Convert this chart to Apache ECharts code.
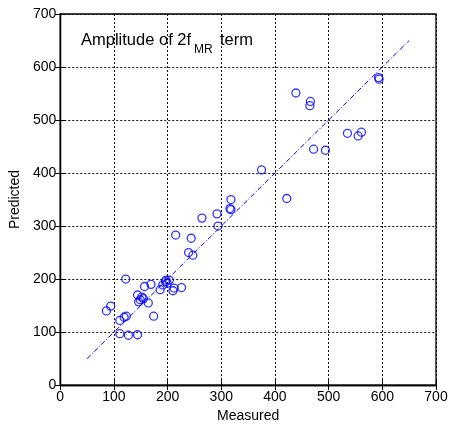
<!DOCTYPE html>
<html>
<head>
<meta charset="utf-8">
<script src="https://cdn.jsdelivr.net/npm/echarts@6/dist/echarts.min.js"></script>
<style>
  html, body { margin: 0; padding: 0; background: #fff; }
  #chart { width: 454px; height: 428px; }
</style>
</head>
<body>
<div id="chart"></div>
<script>
// Measured vs. predicted amplitude of the 2f_MR term
const measured = [
  86, 94, 111, 127, 144, 111, 119, 123, 122,
  144, 146, 149, 152, 155, 157, 169, 164, 174,
  186, 191, 197, 203, 199, 196, 210, 212, 226,
  215, 244, 239, 247, 264, 292, 294, 316, 318, 318,
  375, 422, 439, 466, 465, 472, 494,
  535, 555, 561, 593, 594
];
const predicted = [
  140, 149, 97, 94, 95, 122, 128, 130, 200,
  170, 157, 161, 166, 163, 186, 190, 155, 130,
  180, 189, 198, 198, 192, 195, 178, 183, 184,
  283, 277, 250, 245, 315, 323, 300, 333, 331, 350,
  406, 352, 551, 535, 527, 445, 443,
  475, 470, 477, 580, 577
];
// Reference line y = x
const fitX = [50, 650];
const fitY = [50, 650];

const axisTicks = [0, 100, 200, 300, 400, 500, 600, 700];

const FONT = '"Liberation Sans", Arial, sans-serif';
const BLUE = '#0000ff';

const points = measured.map((m, i) => [m, predicted[i]]);
const fitLine = fitX.map((x, i) => [x, fitY[i]]);

const chart = echarts.init(document.getElementById('chart'), null, { renderer: 'canvas' });

const gridLine = { show: true, lineStyle: { color: '#111', type: [2, 2], width: 1 } };
const axisMin = axisTicks[0];
const axisMax = axisTicks[axisTicks.length - 1];
const step = axisTicks[1] - axisTicks[0];

chart.setOption({
  backgroundColor: '#fff',
  animation: false,
  grid: {
    left: 59, right: 18, top: 14, bottom: 38,
    show: true, borderColor: '#000', borderWidth: 1.3
  },
  xAxis: [
    {
      type: 'value', min: axisMin, max: axisMax, interval: step,
      name: 'Measured', nameLocation: 'middle', nameGap: 22,
      nameTextStyle: { fontFamily: FONT, fontSize: 14, color: '#000' },
      axisLine: { show: true, lineStyle: { color: '#000', width: 1.3 } },
      axisTick: { show: true, inside: true, length: 5, lineStyle: { color: '#000' } },
      axisLabel: { fontFamily: FONT, fontSize: 14, color: '#000', margin: 5 },
      splitLine: gridLine
    },
    {
      type: 'value', position: 'top', min: axisMin, max: axisMax, interval: step,
      axisLine: { show: true, lineStyle: { color: '#000', width: 1.3 } },
      axisTick: { show: true, inside: true, length: 5, lineStyle: { color: '#000' } },
      axisLabel: { show: false },
      splitLine: { show: false }
    }
  ],
  yAxis: [
    {
      type: 'value', min: axisMin, max: axisMax, interval: step,
      name: 'Predicted', nameLocation: 'middle', nameGap: 31,
      nameTextStyle: { fontFamily: FONT, fontSize: 14, color: '#000' },
      axisLine: { show: true, lineStyle: { color: '#000', width: 1.3 } },
      axisTick: { show: true, inside: true, length: 5, lineStyle: { color: '#000' } },
      axisLabel: { fontFamily: FONT, fontSize: 14, color: '#000', margin: 4 },
      splitLine: gridLine
    },
    {
      type: 'value', position: 'right', min: axisMin, max: axisMax, interval: step,
      axisLine: { show: true, lineStyle: { color: '#000', width: 1.3 } },
      axisTick: { show: true, inside: true, length: 5, lineStyle: { color: '#000' } },
      axisLabel: { show: false },
      splitLine: { show: false }
    }
  ],
  series: [
    {
      type: 'line',
      data: fitLine,
      symbol: 'none',
      lineStyle: { color: BLUE, width: 1, type: [5, 2, 1, 2] },
      z: 2
    },
    {
      type: 'scatter',
      data: points,
      symbol: 'circle',
      symbolSize: 8,
      itemStyle: { color: 'rgba(0,0,0,0)', borderColor: BLUE, borderWidth: 1.3 },
      z: 3
    }
  ],
  graphic: [
    {
      type: 'text', left: 81, top: 32,
      style: { text: 'Amplitude of 2f', fontFamily: FONT, fontSize: 16.5, fill: '#000' }
    },
    {
      type: 'text', left: 194, top: 44,
      style: { text: 'MR', fontFamily: FONT, fontSize: 12, fill: '#000' }
    },
    {
      type: 'text', left: 220, top: 32,
      style: { text: 'term', fontFamily: FONT, fontSize: 16.5, fill: '#000' }
    }
  ]
});
</script>
</body>
</html>
